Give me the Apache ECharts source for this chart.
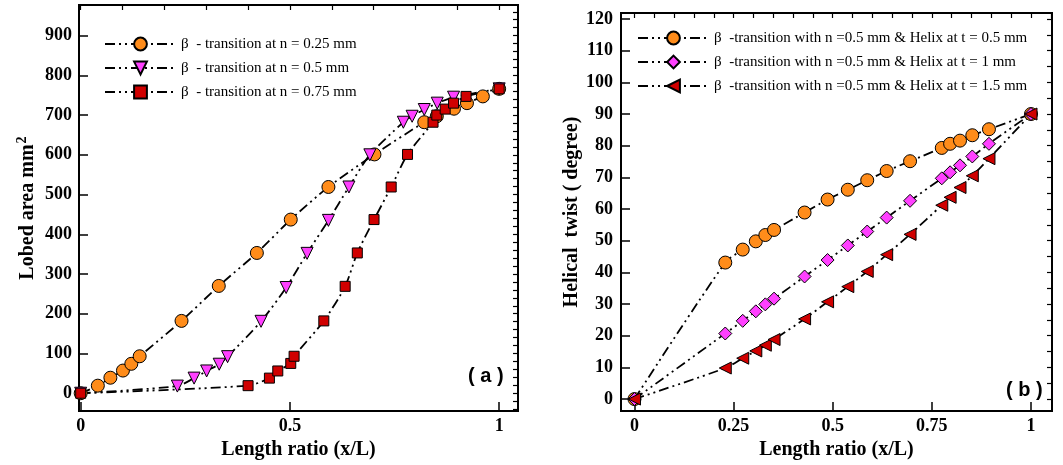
<!DOCTYPE html>
<html><head><meta charset="utf-8">
<script src="https://cdn.jsdelivr.net/npm/echarts@6/dist/echarts.min.js"></script>
<style>html,body{margin:0;padding:0;background:#fff}#c{width:1063px;height:465px}</style>
</head><body><div id="c"></div>
<script>
// ---- Panel (a): lobed area ----
const aNames = ['\u03b2  - transition at n = 0.25 mm', '\u03b2  - transition at n = 0.5 mm', '\u03b2  - transition at n = 0.75 mm'];
const aX1 = [0, 0.041, 0.071, 0.101, 0.121, 0.141, 0.241, 0.330, 0.421, 0.502, 0.592, 0.702, 0.821, 0.851, 0.892, 0.923, 0.961, 1.0];
const aY1 = [0, 19, 39, 57, 74, 93, 182, 270, 353, 437, 519, 601, 682, 697, 716, 730, 747, 766];
const aX2 = [0, 0.231, 0.271, 0.301, 0.331, 0.351, 0.431, 0.491, 0.541, 0.592, 0.641, 0.691, 0.771, 0.792, 0.821, 0.852, 0.891, 1.0];
const aY2 = [0, 18, 38, 56, 73, 92, 181, 266, 352, 435, 519, 600, 682, 697, 714, 730, 745, 766];
const aX3 = [0, 0.400, 0.451, 0.471, 0.502, 0.510, 0.581, 0.632, 0.661, 0.701, 0.742, 0.781, 0.842, 0.851, 0.871, 0.891, 0.921, 1.0];
const aY3 = [0, 19, 38, 56, 75, 93, 182, 269, 353, 437, 519, 601, 682, 700, 715, 730, 747, 766];
const aXLabels = [0, 0.5, 1];
const aYLabels = [0, 100, 200, 300, 400, 500, 600, 700, 800, 900];

// ---- Panel (b): helical twist ----
const bNames = ['\u03b2  -transition with n =0.5 mm & Helix at t = 0.5 mm', '\u03b2  -transition with n =0.5 mm & Helix at t = 1 mm', '\u03b2  -transition with n =0.5 mm & Helix at t = 1.5 mm'];
const bX = [0, 0.229, 0.273, 0.306, 0.330, 0.352, 0.429, 0.487, 0.538, 0.587, 0.636, 0.695, 0.775, 0.796, 0.821, 0.852, 0.894, 1.0];
const bY1 = [0, 43.1, 47.2, 49.8, 51.8, 53.4, 58.9, 63.0, 66.1, 69.1, 72.0, 75.1, 79.3, 80.6, 81.6, 83.3, 85.2, 90];
const bY2 = [0, 20.7, 24.7, 27.7, 29.9, 31.7, 38.7, 43.9, 48.5, 52.9, 57.3, 62.6, 69.7, 71.6, 73.8, 76.6, 80.6, 90];
const bY3 = [0, 9.8, 12.9, 15.2, 17.0, 18.8, 25.3, 30.7, 35.5, 40.3, 45.6, 52.0, 61.2, 63.7, 66.8, 70.5, 75.9, 90];
const bXLabels = [0, 0.25, 0.5, 0.75, 1];
const bYLabels = [0, 10, 20, 30, 40, 50, 60, 70, 80, 90, 100, 110, 120];

const zip = (xs, ys) => xs.map((x, i) => [x, ys[i]]);
const range = (a, b, s) => { const r = []; for (let v = a; v <= b + 1e-9; v += s) r.push(+v.toFixed(4)); return r; };

const SERIF = 'Liberation Serif';
const lineStyle = { color: '#000', width: 1.8, type: [10, 4, 2, 4, 2, 4] };
const ORANGE = '#FF8C1A', MAGENTA = '#FF40FF', RED = '#D00000';

function mkSeries(name, data, xi, yi, symbol, size, color, rot) {
  return {
    name, type: 'line', xAxisIndex: xi, yAxisIndex: yi, data,
    symbol, symbolSize: size, symbolRotate: rot || 0, showAllSymbol: true,
    smooth: 0.25, clip: false,
    lineStyle, itemStyle: { color, borderColor: '#000', borderWidth: 1 },
    emphasis: { disabled: true }
  };
}

const tickLabel = { fontFamily: SERIF, fontWeight: 'bold', fontSize: 18, color: '#000' };
const nameStyle = { fontFamily: SERIF, fontWeight: 'bold', fontSize: 20, color: '#000' };

function majorAxis(grid, min, max, labels, extra) {
  return Object.assign({
    type: 'value', gridIndex: grid, min, max,
    axisLine: { show: true, onZero: false, lineStyle: { color: '#000', width: 2 } },
    axisTick: { show: true, inside: true, length: 9, customValues: labels, lineStyle: { color: '#000', width: 1.5 } },
    axisLabel: Object.assign({ customValues: labels }, tickLabel),
    splitLine: { show: false }
  }, extra);
}
function minorAxis(grid, min, max, ticks) {
  return {
    type: 'value', gridIndex: grid, min, max,
    axisLine: { show: false, onZero: false },
    axisTick: { show: true, inside: true, length: 5, customValues: ticks, lineStyle: { color: '#000', width: 1.2 } },
    axisLabel: { show: false }, splitLine: { show: false }
  };
}

const option = {
  backgroundColor: '#fff',
  animation: false,
  grid: [
    { left: 79, top: 5, width: 439, height: 408, show: true, borderColor: '#000', borderWidth: 2, backgroundColor: 'transparent' },
    { left: 621, top: 13, width: 431, height: 406, show: true, borderColor: '#000', borderWidth: 2, backgroundColor: 'transparent' }
  ],
  xAxis: [
    majorAxis(0, -0.004, 1.045, aXLabels, { name: 'Length ratio (x/L)', nameLocation: 'middle', nameGap: 24, nameTextStyle: nameStyle, axisLabel: Object.assign({ customValues: aXLabels, margin: 6 }, tickLabel) }),
    minorAxis(0, -0.004, 1.045, range(0, 1, 0.1)),
    majorAxis(1, -0.034, 1.053, bXLabels, { name: 'Length ratio (x/L)', nameLocation: 'middle', nameGap: 24, nameTextStyle: nameStyle, axisLabel: Object.assign({ customValues: bXLabels, margin: 6 }, tickLabel) }),
    minorAxis(1, -0.034, 1.053, range(0, 1.05, 0.05))
  ],
  yAxis: [
    majorAxis(0, -45, 977, aYLabels, {
      name: 'Lobed area mm{sup|2}', nameLocation: 'middle', nameGap: 38,
      nameTextStyle: Object.assign({ rich: { sup: { fontFamily: SERIF, fontWeight: 'bold', fontSize: 14, color: '#000', verticalAlign: 'top', padding: [0, 0, 12, 1] } } }, nameStyle),
      axisLabel: Object.assign({ customValues: aYLabels, margin: 7 }, tickLabel)
    }),
    minorAxis(0, -45, 977, range(-40, 960, 20)),
    majorAxis(1, -3.8, 121.9, bYLabels, {
      name: 'Helical  twist ( degree)', nameLocation: 'middle', nameGap: 35, nameTextStyle: nameStyle,
      axisLabel: Object.assign({ customValues: bYLabels, margin: 8 }, tickLabel)
    }),
    minorAxis(1, -3.8, 121.9, range(0, 120, 5))
  ],
  legend: [
    { data: aNames, orient: 'vertical', left: 99, top: 31, itemWidth: 71, itemHeight: 16, itemGap: 8,
      selectedMode: false, textStyle: { fontFamily: SERIF, fontSize: 15, color: '#000', lineHeight: 16 } },
    { data: bNames, orient: 'vertical', left: 632, top: 25, itemWidth: 71, itemHeight: 16, itemGap: 8,
      selectedMode: false, textStyle: { fontFamily: SERIF, fontSize: 15, color: '#000', lineHeight: 16 } }
  ],
  series: [
    mkSeries(aNames[0], zip(aX1, aY1), 0, 0, 'circle', 13, ORANGE),
    mkSeries(aNames[1], zip(aX2, aY2), 0, 0, 'triangle', 12, MAGENTA, 180),
    mkSeries(aNames[2], zip(aX3, aY3), 0, 0, 'rect', 10, RED),
    mkSeries(bNames[0], zip(bX, bY1), 2, 2, 'circle', 13, ORANGE),
    mkSeries(bNames[1], zip(bX, bY2), 2, 2, 'diamond', 13, MAGENTA),
    mkSeries(bNames[2], zip(bX, bY3), 2, 2, 'triangle', 12, RED, 90)
  ],
  graphic: [
    { type: 'text', left: 468, top: 366, style: { text: '( a )', fontFamily: 'Liberation Sans', fontWeight: 'bold', fontSize: 20, fill: '#000' } },
    { type: 'text', left: 1006, top: 380, style: { text: '( b )', fontFamily: 'Liberation Sans', fontWeight: 'bold', fontSize: 20, fill: '#000' } }
  ]
};
echarts.init(document.getElementById('c'), null, { renderer: 'canvas' }).setOption(option);
</script></body></html>
